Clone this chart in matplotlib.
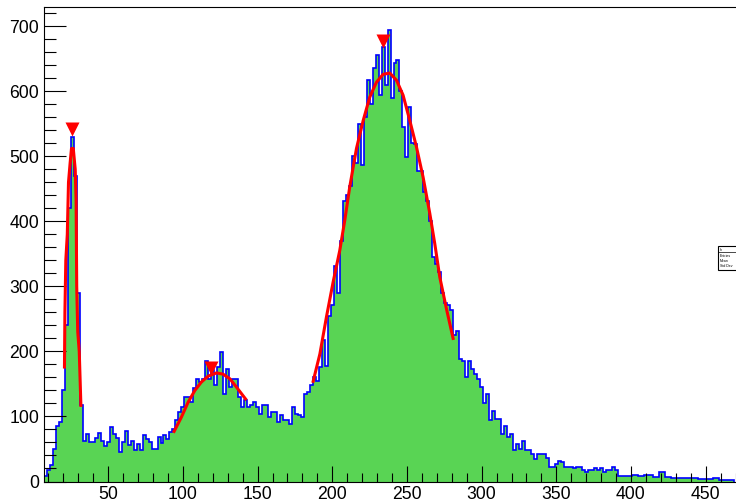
import numpy as np
import matplotlib
matplotlib.use("Agg")
import matplotlib.pyplot as plt
from matplotlib.patches import Rectangle

plt.rcParams['font.family'] = ['Liberation Sans', 'DejaVu Sans']

# histogram: 2-unit bins starting at 7
bin_lo = 7
bin_w = 2
counts = [
    9, 18, 25, 50, 85, 91, 140, 240, 420, 530,
    470, 290, 117, 62, 73, 61, 61, 67, 75, 62,
    54, 61, 84, 73, 67, 46, 60, 78, 56, 62,
    49, 58, 49, 71, 66, 60, 50, 50, 68, 59,
    71, 66, 76, 80, 94, 107, 114, 130, 130, 122,
    143, 158, 153, 158, 186, 158, 171, 148, 176, 199,
    135, 173, 145, 158, 158, 130, 114, 125, 114, 117,
    122, 114, 104, 118, 117, 99, 107, 107, 91, 102,
    94, 94, 88, 114, 104, 102, 99, 135, 137, 148,
    160, 155, 176, 217, 178, 255, 271, 331, 290, 370,
    432, 440, 455, 501, 490, 550, 486, 560, 617, 580,
    635, 655, 594, 668, 610, 694, 589, 643, 648, 600,
    545, 499, 576, 520, 519, 478, 478, 445, 432, 400,
    345, 335, 322, 290, 274, 271, 263, 225, 232, 189,
    186, 160, 186, 173, 165, 158, 145, 120, 135, 94,
    109, 96, 96, 73, 86, 68, 73, 48, 58, 50,
    63, 48, 48, 43, 35, 43, 43, 43, 36, 23,
    23, 27, 32, 30, 22, 22, 22, 20, 23, 23,
    17, 15, 17, 17, 20, 17, 20, 15, 17, 17,
    22, 17, 8, 8, 8, 8, 8, 10, 10, 8,
    8, 10, 10, 10, 7, 7, 14, 14, 7, 7,
    5, 5, 5, 5, 6, 6, 6, 6, 6, 4,
    4, 4, 4, 4, 6, 6, 3, 3, 3, 3,
    2,
]

# gaussian fits as drawn
fit1_x = [20.7, 21.0, 21.6, 22.6, 23.4, 24.5, 25.4, 26.6, 27.9, 28.5, 28.9, 29.6, 30.6, 31.7]
fit1_y = [176, 260, 340, 380, 460, 490, 512, 512, 480, 430, 300, 230, 200, 117]
fit2_x = [94.1, 99.0, 103.5, 108.0, 112.4, 116.9, 122.5, 126.9, 131.4, 135.9, 141.9]
fit2_y = [77, 99, 122, 140, 153, 162, 167, 165, 158, 145, 127]
fit3_x = [187.2, 191.7, 196.1, 200.6, 205.0, 208.4, 211.7, 216.2, 220.7, 225.1, 229.6, 234.0,
          238.5, 243.0, 247.4, 251.9, 256.4, 260.8, 265.3, 268.6, 272.0, 276.4, 280.9]
fit3_y = [154, 196, 253, 307, 355, 402, 453, 512, 555, 591, 614, 626,
          628, 617, 594, 555, 514, 468, 412, 366, 314, 266, 220]

# peaks found
peak_x = [25.7, 118.9, 234.2]
peak_y = [542, 175, 677]

edges = bin_lo + bin_w * np.arange(len(counts) + 1)

fig = plt.figure(figsize=(7.36, 5.03), dpi=100)
ax = fig.add_axes([44.3 / 736, 21.5 / 503, (736 - 44.3) / 736, 474.8 / 503])

ax.stairs(counts, edges, fill=True, color='#59d454', lw=0)
ax.stairs(counts, edges, color='#0000ff', lw=1.2)

for fx, fy in [(fit1_x, fit1_y), (fit2_x, fit2_y), (fit3_x, fit3_y)]:
    ax.plot(fx, fy, color='#ff0000', lw=2.2, solid_joinstyle='round')

ax.plot(peak_x, peak_y, 'v', color='#ff0000', ms=10, mec='none')

ax.set_xlim(7.2, 470.3)
ax.set_ylim(0, 730)
ax.set_xticks(np.arange(50, 451, 50))
ax.set_xticks(np.arange(10, 471, 10), minor=True)
ax.set_yticks(np.arange(0, 701, 100))
ax.set_yticks(np.arange(0, 730, 20), minor=True)

ax.tick_params(axis='both', which='both', direction='in', width=0.8,
               labelsize=12.7, top=False, right=False)
ax.tick_params(axis='y', which='major', length=15.8, pad=3.6)
ax.tick_params(axis='y', which='minor', length=8.6)
ax.tick_params(axis='x', which='major', length=11.5, pad=3)
ax.tick_params(axis='x', which='minor', length=6.5)
for s in ['left', 'bottom', 'top']:
    ax.spines[s].set_linewidth(0.8)
ax.spines['right'].set_visible(False)

# stats box, mostly off the canvas
fig.patches.append(Rectangle((718 / 736, (503 - 270) / 503), 0.05, 24 / 503,
                             transform=fig.transFigure, fc='white', ec='black', lw=0.8))
fig.lines.append(plt.Line2D([718 / 736, 1.0], [(503 - 252) / 503] * 2,
                            transform=fig.transFigure, color='black', lw=0.5))
fig.text(720 / 736, (503 - 250) / 503, 'h', fontsize=2.5, va='center')
fig.text(720 / 736, (503 - 256) / 503, 'Entries', fontsize=2.5, va='center')
fig.text(720 / 736, (503 - 261) / 503, 'Mean', fontsize=2.5, va='center')
fig.text(720 / 736, (503 - 266) / 503, 'Std Dev', fontsize=2.5, va='center')

fig.savefig('out.png', dpi=100)
